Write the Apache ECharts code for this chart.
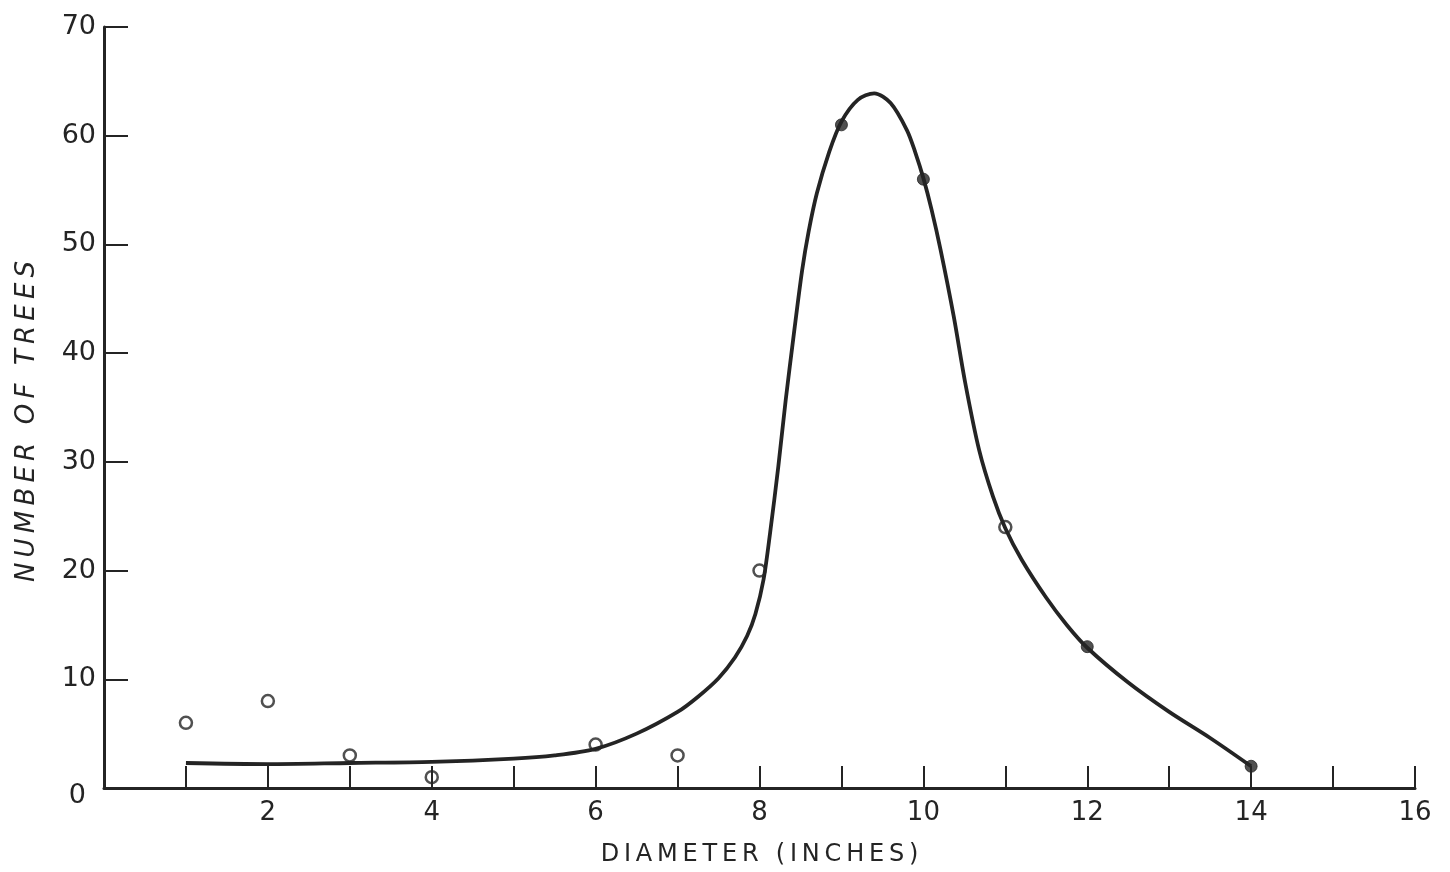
<!DOCTYPE html>
<html>
<head>
<meta charset="utf-8">
<script src="https://cdn.jsdelivr.net/npm/echarts@6/dist/echarts.min.js"></script>
<style>
  html, body { margin: 0; padding: 0; background: #ffffff; }
  #chart { width: 1450px; height: 872px; }
</style>
</head>
<body>
<div id="chart"></div>
<script>
// Tallies of trees per diameter class
const openX = [1, 2, 3, 4, 6, 7, 8, 11];
const openY = [6, 8, 3, 1, 4, 3, 20, 24];
const solidX = [9, 10, 12, 14];
const solidY = [61, 56, 13, 2];

// Hand-fitted frequency curve
const curveX = [1, 2, 3, 4, 5, 5.5, 6, 6.5, 7, 7.25, 7.5, 7.7, 7.85, 7.95, 8.05, 8.13, 8.23, 8.32, 8.42, 8.52, 8.6, 8.7, 8.85, 9.0, 9.2, 9.4, 9.6, 9.8, 9.9, 10.0, 10.1, 10.21, 10.37, 10.51, 10.68, 10.85, 11.0, 11.2, 11.5, 11.75, 12, 12.5, 13, 13.5, 14];
const curveY = [2.3, 2.2, 2.3, 2.4, 2.7, 3.0, 3.6, 5.0, 7.0, 8.4, 10.1, 12.0, 14.0, 16.0, 19.2, 23.5, 29.6, 35.7, 41.8, 47.6, 51.2, 54.7, 58.5, 61.3, 63.3, 63.9, 63.0, 60.5, 58.5, 56.1, 53.2, 49.5, 43.4, 37.3, 31.1, 26.8, 23.9, 21.0, 17.5, 15.0, 12.9, 9.7, 7.0, 4.6, 2.0];

// Axis tick labels
const xTickLabels = ['', '', '2', '', '4', '', '6', '', '8', '', '10', '', '12', '', '14', '', '16'];
const yTickLabels = ['0', '10', '20', '30', '40', '50', '60', '70'];

const ink = '#242424';
const font = '"DejaVu Sans", sans-serif';

function spaced(s) {
  return s.split('').join('\u2009');
}

const chart = echarts.init(document.getElementById('chart'), null, { renderer: 'canvas' });

chart.setOption({
  backgroundColor: '#ffffff',
  animation: false,
  grid: { left: 104, right: 35, top: 27, bottom: 83, containLabel: false },
  xAxis: {
    type: 'value',
    min: 0,
    max: 16,
    interval: 1,
    name: spaced('DIAMETER (INCHES)'),
    nameLocation: 'middle',
    nameGap: 55,
    nameTextStyle: { color: ink, fontFamily: font, fontSize: 24 },
    axisLine: { show: true, lineStyle: { color: ink, width: 3 } },
    axisTick: { show: true, inside: true, length: 22, lineStyle: { color: ink, width: 2 } },
    axisLabel: {
      color: ink, fontFamily: font, fontSize: 26, margin: 12,
      formatter: function (v) { return xTickLabels[Math.round(v)] || ''; }
    },
    splitLine: { show: false }
  },
  yAxis: {
    type: 'value',
    min: 0,
    max: 70,
    interval: 10,
    name: spaced('NUMBER OF TREES'),
    nameLocation: 'middle',
    nameGap: 64,
    nameTextStyle: {
      color: ink, fontFamily: font, fontSize: 26, fontStyle: 'italic',
      padding: [0, 28, 0, 0]
    },
    axisLine: { show: true, lineStyle: { color: ink, width: 3 } },
    axisTick: { show: true, inside: true, length: 24, lineStyle: { color: ink, width: 2 } },
    axisLabel: {
      color: ink, fontFamily: font, fontSize: 27, margin: 8,
      formatter: function (v) {
        const t = yTickLabels[Math.round(v / 10)];
        return v === 0 ? '{zero|' + t + '}' : t;
      },
      rich: { zero: { color: ink, fontFamily: font, fontSize: 27, padding: [16, 10, 0, 0] } }
    },
    splitLine: { show: false }
  },
  series: [
    {
      name: 'fitted curve',
      type: 'line',
      data: curveX.map((x, i) => [x, curveY[i]]),
      smooth: 0.3,
      showSymbol: false,
      lineStyle: { color: ink, width: 3.8 },
      z: 3
    },
    {
      name: 'open points',
      type: 'scatter',
      data: openX.map((x, i) => [x, openY[i]]),
      symbol: 'circle',
      symbolSize: 12,
      itemStyle: { color: 'rgba(0,0,0,0)', borderColor: ink, borderWidth: 2.5 },
      z: 4
    },
    {
      name: 'solid points',
      type: 'scatter',
      data: solidX.map((x, i) => [x, solidY[i]]),
      symbol: 'circle',
      symbolSize: 12,
      itemStyle: { color: ink, borderColor: ink, borderWidth: 1 },
      z: 4
    }
  ]
});
</script>
</body>
</html>
